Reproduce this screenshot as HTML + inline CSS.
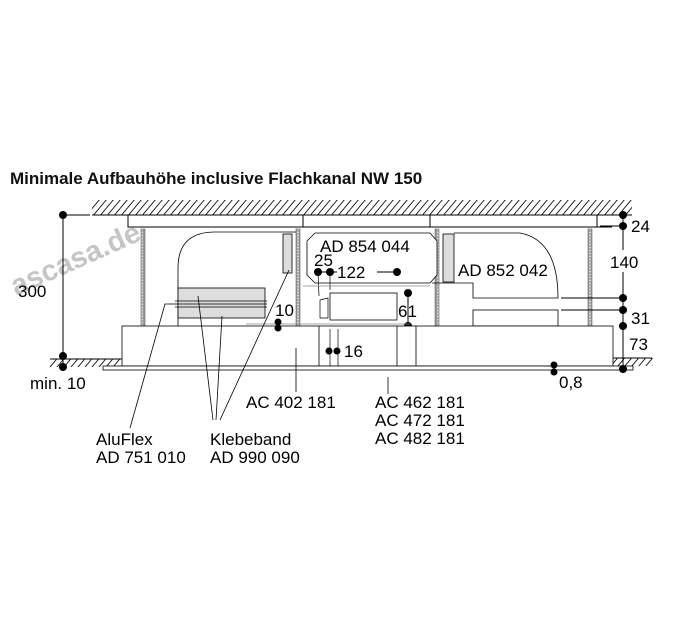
<!DOCTYPE html>
<html><head><meta charset="utf-8"><style>
html,body{margin:0;padding:0;background:#fff;}
svg{display:block;font-family:"Liberation Sans",Arial,sans-serif;}
</style></head><body>
<svg width="675" height="640" viewBox="0 0 675 640" xmlns="http://www.w3.org/2000/svg">
<defs>
<pattern id="h" width="7" height="15" patternUnits="userSpaceOnUse" patternTransform="skewX(-40)">
<line x1="1" y1="0" x2="1" y2="15" stroke="#000" stroke-width="1.1"/>
</pattern>
<pattern id="m" width="4" height="3" patternUnits="userSpaceOnUse">
<rect width="4" height="3" fill="#999"/><circle cx="2" cy="1.5" r="1" fill="#ddd"/>
</pattern>
</defs>
<text x="10" y="184" font-size="17" font-weight="bold" fill="#111">Minimale Aufbauhöhe inclusive Flachkanal NW 150</text>
<!-- ceiling -->
<rect x="92" y="200" width="540" height="15" fill="url(#h)"/>
<line x1="92" y1="215" x2="632" y2="215" stroke="#000"/>
<line x1="63" y1="215" x2="90" y2="215" stroke="#000"/>
<!-- floor hatches -->
<rect x="50" y="359" width="70" height="8" fill="url(#h)"/>
<line x1="50" y1="359" x2="122" y2="359" stroke="#000"/>
<rect x="613" y="358" width="40" height="8" fill="url(#h)"/>
<line x1="613" y1="358" x2="652" y2="358" stroke="#000"/>
<!-- watermark -->
<text x="16" y="296" font-size="29" font-weight="bold" fill="#bbb" fill-opacity="0.85" transform="rotate(-24 16 296)">ascasa.de</text>
<!-- left dim -->
<line x1="63" y1="215" x2="63" y2="367" stroke="#000"/>
<circle cx="63" cy="215" r="4"/><circle cx="63" cy="356" r="4"/><circle cx="63" cy="367" r="4"/>
<text x="18" y="297" font-size="17">300</text>
<!-- plates -->
<rect x="128" y="215" width="175" height="12" fill="#fff" stroke="#000"/>
<rect x="430" y="215" width="167" height="12" fill="#fff" stroke="#000"/>
<line x1="303" y1="227" x2="430" y2="227" stroke="#000"/>
<line x1="597" y1="227" x2="612" y2="227" stroke="#000"/>
<!-- columns -->
<rect x="141" y="229" width="4" height="97" fill="url(#m)" stroke="#666" stroke-width="0.6"/>
<rect x="296" y="229" width="4" height="97" fill="url(#m)" stroke="#666" stroke-width="0.6"/>
<rect x="435" y="229" width="4" height="97" fill="url(#m)" stroke="#666" stroke-width="0.6"/>
<rect x="588" y="229" width="4" height="97" fill="url(#m)" stroke="#666" stroke-width="0.6"/>
<!-- left duct -->
<path d="M178 326 L178 268 Q178 232 215 232 L296 232" fill="none" stroke="#000" stroke-width="0.8"/>
<rect x="178" y="288" width="87" height="30" fill="#ddd" stroke="#000" stroke-width="0.8"/>
<line x1="175" y1="301" x2="267" y2="301" stroke="#000" stroke-width="0.7"/>
<line x1="175" y1="304" x2="267" y2="304" stroke="#000" stroke-width="0.7"/>
<line x1="175" y1="307" x2="267" y2="307" stroke="#000" stroke-width="0.7"/>
<rect x="283" y="234" width="9" height="39" fill="#ddd" stroke="#000" stroke-width="0.8"/>
<!-- center box -->
<path d="M315 233 L430 233 L437 241 L437 275 L430 283 L315 283 L307 275 L307 241 Z" fill="#fff" stroke="#000" stroke-width="0.8"/>
<text x="320" y="252" font-size="17">AD 854 044</text>
<text x="314" y="266" font-size="17">25</text>
<line x1="318" y1="272" x2="337" y2="272" stroke="#000"/>
<line x1="377" y1="272" x2="397" y2="272" stroke="#000"/>
<text x="337" y="278" font-size="17">122</text>
<circle cx="318" cy="272" r="4"/><circle cx="330" cy="272" r="4"/><circle cx="397" cy="272" r="4"/>
<line x1="318" y1="272" x2="319" y2="296" stroke="#000" stroke-width="0.7"/>
<line x1="330" y1="272" x2="330" y2="290" stroke="#000" stroke-width="0.7"/>
<line x1="303" y1="286" x2="430" y2="286" stroke="#888" stroke-width="0.8"/>
<rect x="330" y="293" width="67" height="27" fill="#fff" stroke="#000" stroke-width="0.8"/>
<path d="M320 300 L328 298 L328 318 L320 318 Z" fill="#fff" stroke="#000" stroke-width="0.7"/>
<line x1="408" y1="293" x2="408" y2="326" stroke="#000"/>
<circle cx="408" cy="293" r="4"/><circle cx="408" cy="326" r="4"/>
<text x="398" y="317" font-size="17">61</text>
<!-- right duct -->
<rect x="443" y="234" width="11" height="48" fill="#ddd" stroke="#000" stroke-width="0.8"/>
<path d="M454 233 L520 233 Q558 240 558 298 L473 298 L473 283 L432 283" fill="none" stroke="#000" stroke-width="0.8"/>
<text x="458" y="276" font-size="17">AD 852 042</text>
<rect x="473" y="310" width="85" height="16" fill="#fff" stroke="#000" stroke-width="0.8"/>
<line x1="561" y1="298" x2="623" y2="298" stroke="#000"/>
<line x1="561" y1="310" x2="623" y2="310" stroke="#000"/>
<!-- hood -->
<rect x="122" y="326" width="491" height="40" fill="#fff" stroke="#000" stroke-width="0.8"/>
<rect x="103" y="366" width="530" height="4" fill="#fff" stroke="#000" stroke-width="0.8"/>
<line x1="319" y1="326" x2="319" y2="366" stroke="#000" stroke-width="0.8"/>
<line x1="397" y1="326" x2="397" y2="366" stroke="#000" stroke-width="0.8"/>
<line x1="416" y1="326" x2="416" y2="366" stroke="#000" stroke-width="0.8"/>
<line x1="330" y1="329" x2="330" y2="366" stroke="#000" stroke-width="0.7"/>
<line x1="338" y1="329" x2="338" y2="366" stroke="#000" stroke-width="0.7"/>
<line x1="246" y1="324" x2="410" y2="324" stroke="#888" stroke-width="0.8"/>
<circle cx="278" cy="322" r="3.5"/><circle cx="278" cy="328" r="3.5"/>
<text x="275" y="316" font-size="17">10</text>
<circle cx="329" cy="351" r="3.5"/><circle cx="337" cy="351" r="3.5"/>
<text x="344" y="357" font-size="17">16</text>
<!-- right dims -->
<line x1="623" y1="215" x2="623" y2="370" stroke="#000"/>
<line x1="600" y1="226" x2="623" y2="226" stroke="#000"/>
<circle cx="623" cy="215" r="4"/><circle cx="623" cy="226" r="4"/><circle cx="623" cy="298" r="4"/>
<circle cx="623" cy="310" r="4"/><circle cx="623" cy="326" r="4"/><circle cx="623" cy="369" r="4"/>
<rect x="608" y="250" width="32" height="22" fill="#fff"/>
<text x="631" y="232" font-size="17">24</text>
<text x="610" y="268" font-size="17">140</text>
<text x="631" y="324" font-size="17">31</text>
<text x="629" y="350" font-size="17">73</text>
<circle cx="554" cy="365" r="3.5"/><circle cx="554" cy="372" r="3.5"/>
<text x="559" y="388" font-size="17">0,8</text>
<!-- labels -->
<text x="30" y="389" font-size="17">min. 10</text>
<line x1="296" y1="348" x2="296" y2="392" stroke="#000" stroke-width="0.8"/>
<text x="246" y="408" font-size="17">AC 402 181</text>
<line x1="388" y1="377" x2="388" y2="394" stroke="#000" stroke-width="0.8"/>
<text x="375" y="408" font-size="17">AC 462 181</text>
<text x="375" y="426" font-size="17">AC 472 181</text>
<text x="375" y="444" font-size="17">AC 482 181</text>
<polyline points="130,428 165,304 178,304" fill="none" stroke="#000" stroke-width="0.8"/>
<line x1="213" y1="420" x2="198" y2="296" stroke="#000" stroke-width="0.8"/>
<line x1="216" y1="420" x2="222" y2="316" stroke="#000" stroke-width="0.8"/>
<line x1="220" y1="420" x2="289" y2="270" stroke="#000" stroke-width="0.8"/>
<text x="96" y="445" font-size="17">AluFlex</text>
<text x="96" y="463" font-size="17">AD 751 010</text>
<text x="210" y="445" font-size="17">Klebeband</text>
<text x="210" y="463" font-size="17">AD 990 090</text>
</svg>
</body></html>
